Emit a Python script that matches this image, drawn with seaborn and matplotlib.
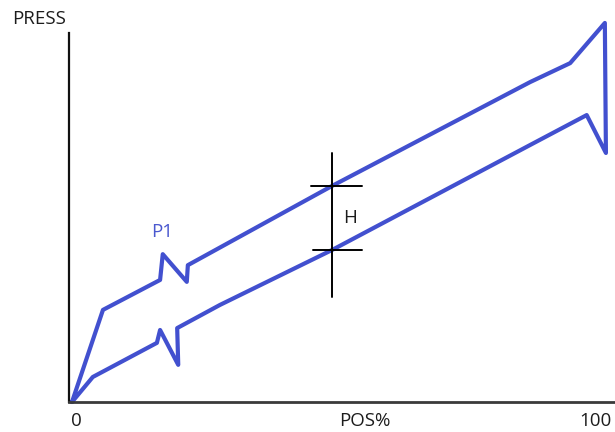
import matplotlib
matplotlib.use("Agg")
import matplotlib.pyplot as plt
import seaborn as sns
import pandas as pd

# Pressure vs. stroke position loop (rise along the top, return along the bottom)
pos = [0.0, 5.8, 16.5, 17.0, 21.5, 21.7, 48.7, 85.8, 93.3, 99.8,
       100.0, 96.4, 85.8, 48.7, 27.7, 19.7, 19.9, 16.5, 15.9, 3.9, 0.0]
press = [0.0, 24.3, 32.2, 39.0, 31.7, 36.1, 57.0, 84.4, 89.4, 100.0,
         65.7, 75.7, 67.8, 40.1, 25.6, 19.5, 9.8, 19.0, 15.6, 6.6, 0.0]

# Hysteresis marker: position of the vertical gauge and the two pressure levels
h_pos = 48.7
h_upper = 57.0
h_lower = 40.1
h_span = (27.7, 65.7)

x_tick_values = [0.9, 54.8, 98.0]
x_tick_labels = ["0", "POS%", "100"]
y_label = "PRESS"
peak_label = "P1"
gap_label = "H"

sns.set_theme(style="white")
plt.rcParams["font.family"] = ["Open Sans", "DejaVu Sans"]

line_color = "#4250cf"
text_color = "#1c1c1c"
fs = 13.5

fig = plt.figure(figsize=(6.15, 4.32), dpi=100)
ax = fig.add_axes([69 / 615, 30 / 432, 546 / 615, 387 / 432])

df = pd.DataFrame({"pos": pos, "press": press})
sns.lineplot(data=df, x="pos", y="press", sort=False, estimator=None,
             color=line_color, linewidth=3.0, ax=ax, clip_on=False)

# Gauge marking the gap H between the two branches
ax.plot([h_pos, h_pos], h_span, color="black", linewidth=1.4)
ax.plot([h_pos - 3.9, h_pos + 5.6], [h_upper, h_upper], color="black", linewidth=1.4)
ax.plot([h_pos - 3.6, h_pos + 5.6], [h_lower, h_lower], color="black", linewidth=1.4)
ax.text(h_pos + 3.3, (h_upper + h_lower) / 2, gap_label, fontsize=fs,
        color=text_color, ha="center", va="center")
ax.text(16.9, 44.8, peak_label, fontsize=fs, color="#4a58cf",
        ha="center", va="center")

ax.set_xlim(-0.56, 101.7)
ax.set_ylim(0, 102.1)
ax.set_xticks([])
ax.set_yticks([])
ax.set_xlabel("")
ax.set_ylabel("")

for xv, lab in zip(x_tick_values, x_tick_labels):
    ax.text(xv, -4.9, lab, fontsize=fs, color=text_color,
            ha="center", va="center", clip_on=False)
fig.text(39 / 615, 1 - 19 / 432, y_label, fontsize=fs, color=text_color,
         ha="center", va="center")

sns.despine(ax=ax, top=True, right=True)
ax.spines["left"].set_bounds(0, 97.4)
ax.spines["left"].set_color("#111111")
ax.spines["left"].set_linewidth(1.6)
ax.spines["bottom"].set_color("#3a3a3a")
ax.spines["bottom"].set_linewidth(2.0)

fig.savefig("out.png", dpi=100)
